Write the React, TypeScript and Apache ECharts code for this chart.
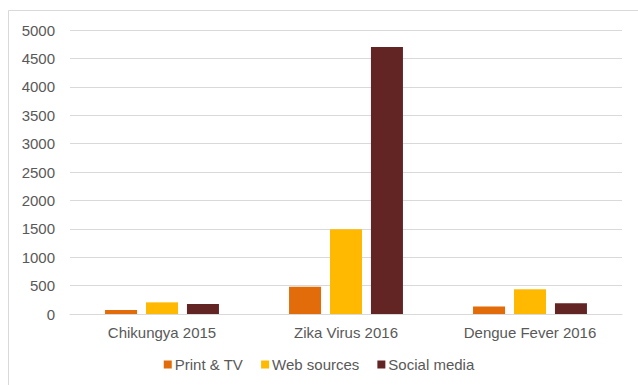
import React, { useEffect, useRef } from "react";
import * as echarts from "echarts";

const categories = ["Chikungya 2015", "Zika Virus 2016", "Dengue Fever 2016"];
const printTV = [70, 480, 130];
const webSources = [205, 1490, 435];
const socialMedia = [175, 4700, 190];
const seriesNames = ["Print & TV", "Web sources", "Social media"];
const colors = ["#E26B0A", "#FFB900", "#632523"];

export default function App() {
  const ref = useRef<HTMLDivElement>(null);
  useEffect(() => {
    const chart = echarts.init(ref.current!, null, { renderer: "svg" });
    const font = "'Liberation Sans', Arial, sans-serif";
    const data = [printTV, webSources, socialMedia];
    chart.setOption({
      animation: false,
      color: colors,
      textStyle: { fontFamily: font },
      graphic: [
        {
          type: "rect",
          shape: { x: 8.5, y: 10.5, width: 700, height: 500 },
          style: { fill: "none", stroke: "#D9D9D9", lineWidth: 1 },
          silent: true,
        },
      ],
      grid: { left: 70, right: 16, top: 30, bottom: 71 },
      xAxis: {
        type: "category",
        data: categories,
        axisTick: { show: false },
        axisLine: { show: true, lineStyle: { color: "#D9D9D9", width: 1 } },
        axisLabel: { color: "#595959", fontSize: 15, margin: 11, fontFamily: font },
      },
      yAxis: {
        type: "value",
        min: 0,
        max: 5000,
        interval: 500,
        axisLine: { show: false },
        axisTick: { show: false },
        splitLine: { lineStyle: { color: "#D9D9D9", width: 1 } },
        axisLabel: {
          color: "#595959",
          fontSize: 15,
          margin: 15,
          fontFamily: font,
          formatter: (v: number) => String(v),
        },
      },
      legend: {
        bottom: 8,
        left: "center",
        itemWidth: 8,
        itemHeight: 8,
        itemGap: 18,
        icon: "rect",
        textStyle: { color: "#595959", fontSize: 15, fontFamily: font, padding: [0, 0, 0, -2] },
        data: seriesNames,
      },
      series: seriesNames.map((name, i) => ({
        name,
        type: "bar",
        data: data[i],
        barWidth: 32,
        barGap: "28%",
        itemStyle: { color: colors[i] },
      })),
    });
    return () => chart.dispose();
  }, []);
  return (
    <div
      ref={ref}
      style={{ position: "absolute", left: 0, top: 0, width: 638, height: 385 }}
    />
  );
}
